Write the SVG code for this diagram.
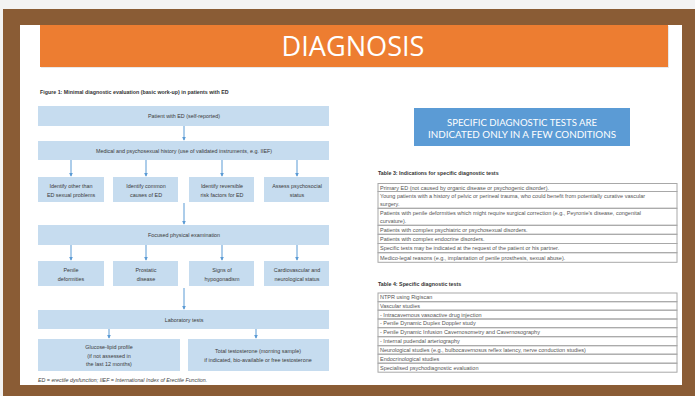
<svg xmlns="http://www.w3.org/2000/svg" width="695" height="396" viewBox="0 0 695 396">
<defs>
<marker id="ah" viewBox="0 0 6 6" refX="5" refY="3" markerWidth="4" markerHeight="4" orient="auto" markerUnits="userSpaceOnUse">
<path d="M0,0 L6,3 L0,6 z" fill="#5b9bd5"/>
</marker>
<style>
.box{fill:#c6dcef;}
.ft{font-family:"Liberation Sans",Arial,sans-serif;font-size:5.4px;fill:#3a3a3a;text-anchor:middle;}
.tt{font-family:"Liberation Sans",Arial,sans-serif;font-size:5.5px;fill:#555;}
.cap{font-family:"Liberation Sans",Arial,sans-serif;font-size:5.3px;font-weight:bold;fill:#333;}
.row{fill:none;stroke:#a8a8a8;stroke-width:1;}
.con line{stroke:#5b9bd5;stroke-width:1;marker-end:url(#ah);}
</style>
</defs>
<rect x="0" y="0" width="695" height="396" fill="#f3f3f3"/>
<rect x="3" y="9" width="692" height="387" fill="#8a5c35"/>
<rect x="20" y="25" width="662" height="360" fill="#ffffff"/>
<g id="title">
<rect x="41" y="26" width="628" height="42" fill="#e8e8e8"/>
<rect x="40" y="25" width="628" height="42" fill="#ed7d31"/>
<text x="353" y="55.5" font-family="Open Sans, sans-serif" font-size="27" fill="#ffffff" text-anchor="middle" textLength="143" lengthAdjust="spacingAndGlyphs">DIAGNOSIS</text>
</g>
<text class="cap" x="40" y="94">Figure 1: Minimal diagnostic evaluation (basic work-up) in patients with ED</text>

<g class="con" id="connectors">
<line x1="184" y1="126" x2="184" y2="140"/>
<line x1="71" y1="160" x2="71" y2="176"/>
<line x1="146" y1="160" x2="146" y2="176"/>
<line x1="222" y1="160" x2="222" y2="176"/>
<line x1="297" y1="160" x2="297" y2="176"/>
<line x1="184" y1="203" x2="184" y2="224"/>
<line x1="71" y1="245" x2="71" y2="260"/>
<line x1="146" y1="245" x2="146" y2="260"/>
<line x1="222" y1="245" x2="222" y2="260"/>
<line x1="297" y1="245" x2="297" y2="260"/>
<line x1="184" y1="288" x2="184" y2="309"/>
<line x1="109" y1="329" x2="109" y2="338"/>
<line x1="256" y1="329" x2="256" y2="338"/>
</g>

<g id="n1"><rect class="box" x="38" y="106" width="291" height="20"/><text class="ft" x="184" y="118">Patient with ED (self-reported)</text></g>
<g id="n2"><rect class="box" x="38" y="141" width="291" height="19"/><text class="ft" x="184" y="152.5">Medical and psychosexual history (use of validated instruments, e.g. IIEF)</text></g>
<g id="n3a"><rect class="box" x="38" y="177" width="66" height="25"/><text class="ft" x="71" y="187.5">Identify other than</text><text class="ft" x="71" y="196.5">ED sexual problems</text></g>
<g id="n3b"><rect class="box" x="113" y="177" width="65" height="25"/><text class="ft" x="146" y="187.5">Identify common</text><text class="ft" x="146" y="196.5">causes of ED</text></g>
<g id="n3c"><rect class="box" x="189" y="177" width="65" height="25"/><text class="ft" x="222" y="187.5">Identify reversible</text><text class="ft" x="222" y="196.5">risk factors for ED</text></g>
<g id="n3d"><rect class="box" x="264" y="177" width="65" height="25"/><text class="ft" x="297" y="187.5">Assess psychosocial</text><text class="ft" x="297" y="196.5">status</text></g>
<g id="n4"><rect class="box" x="38" y="225" width="291" height="20"/><text class="ft" x="184" y="237">Focused physical examination</text></g>
<g id="n5a"><rect class="box" x="38" y="261" width="66" height="25"/><text class="ft" x="71" y="271.5">Penile</text><text class="ft" x="71" y="280.5">deformities</text></g>
<g id="n5b"><rect class="box" x="113" y="261" width="65" height="25"/><text class="ft" x="146" y="271.5">Prostatic</text><text class="ft" x="146" y="280.5">disease</text></g>
<g id="n5c"><rect class="box" x="189" y="261" width="65" height="25"/><text class="ft" x="222" y="271.5">Signs of</text><text class="ft" x="222" y="280.5">hypogonadism</text></g>
<g id="n5d"><rect class="box" x="264" y="261" width="65" height="25"/><text class="ft" x="297" y="271.5">Cardiovascular and</text><text class="ft" x="297" y="280.5">neurological status</text></g>
<g id="n6"><rect class="box" x="38" y="310" width="291" height="19"/><text class="ft" x="184" y="321.5">Laboratory tests</text></g>
<g id="n7a"><rect class="box" x="38" y="339" width="142" height="32"/><text class="ft" x="109" y="348.5">Glucose-lipid profile</text><text class="ft" x="109" y="357.5">(if not assessed in</text><text class="ft" x="109" y="366">the last 12 months)</text></g>
<g id="n7b"><rect class="box" x="188" y="339" width="141" height="32"/><text class="ft" x="258" y="353">Total testosterone (morning sample)</text><text class="ft" x="258" y="362">if indicated, bio-available or free testosterone</text></g>
<text x="38" y="382" font-family="Liberation Sans, Arial, sans-serif" font-size="5.3" font-style="italic" fill="#444">ED = erectile dysfunction; IIEF = International Index of Erectile Function.</text>

<g id="bluebox">
<rect x="414" y="108" width="216" height="38" fill="#5b9bd5"/>
<text x="522" y="126" font-family="Lato, 'Open Sans', sans-serif" font-size="10" fill="#ffffff" text-anchor="middle" textLength="150" lengthAdjust="spacingAndGlyphs">SPECIFIC DIAGNOSTIC TESTS ARE</text>
<text x="522" y="138" font-family="Lato, 'Open Sans', sans-serif" font-size="10" fill="#ffffff" text-anchor="middle" textLength="188" lengthAdjust="spacingAndGlyphs">INDICATED ONLY IN A FEW CONDITIONS</text>
</g>

<g id="table3">
<text class="cap" x="378" y="174.5">Table 3: Indications for specific diagnostic tests</text>
<rect class="row" x="378" y="183.5" width="299" height="8"/>
<rect class="row" x="378" y="191.5" width="299" height="16.8"/>
<rect class="row" x="378" y="208.3" width="299" height="17"/>
<rect class="row" x="378" y="225.3" width="299" height="9"/>
<rect class="row" x="378" y="234.3" width="299" height="9.2"/>
<rect class="row" x="378" y="243.5" width="299" height="9.2"/>
<rect class="row" x="378" y="252.7" width="299" height="9.6"/>
<text class="tt" x="380" y="189.5">Primary ED (not caused by organic disease or psychogenic disorder).</text>
<text class="tt" x="380" y="197.8">Young patients with a history of pelvic or perineal trauma, who could benefit from potentially curative vascular</text>
<text class="tt" x="380" y="206">surgery.</text>
<text class="tt" x="380" y="214.6">Patients with penile deformities which might require surgical correction (e.g., Peyronie’s disease, congenital</text>
<text class="tt" x="380" y="223">curvature).</text>
<text class="tt" x="380" y="231.8">Patients with complex psychiatric or psychosexual disorders.</text>
<text class="tt" x="380" y="240.9">Patients with complex endocrine disorders.</text>
<text class="tt" x="380" y="250.1">Specific tests may be indicated at the request of the patient or his partner.</text>
<text class="tt" x="380" y="259.5">Medico-legal reasons (e.g., implantation of penile prosthesis, sexual abuse).</text>
</g>

<g id="table4">
<text class="cap" x="378" y="286">Table 4: Specific diagnostic tests</text>
<rect class="row" x="378" y="293" width="299" height="8.7"/>
<rect class="row" x="378" y="301.7" width="299" height="8.5"/>
<rect class="row" x="378" y="310.2" width="299" height="8.8"/>
<rect class="row" x="378" y="319" width="299" height="8.7"/>
<rect class="row" x="378" y="327.7" width="299" height="9"/>
<rect class="row" x="378" y="336.7" width="299" height="9"/>
<rect class="row" x="378" y="345.7" width="299" height="8.5"/>
<rect class="row" x="378" y="354.2" width="299" height="9"/>
<rect class="row" x="378" y="363.2" width="299" height="9"/>
<text class="tt" x="380" y="299.2">NTPR using Rigiscan</text>
<text class="tt" x="380" y="307.9">Vascular studies</text>
<text class="tt" x="380" y="316.5">- Intracavernous vasoactive drug injection</text>
<text class="tt" x="380" y="325.3">- Penile Dynamic Duplex Doppler study</text>
<text class="tt" x="380" y="334.2">- Penile Dynamic Infusion Cavernosometry and Cavernosography</text>
<text class="tt" x="380" y="343.2">- Internal pudendal arteriography</text>
<text class="tt" x="380" y="351.9">Neurological studies (e.g., bulbocavernosus reflex latency, nerve conduction studies)</text>
<text class="tt" x="380" y="360.7">Endocrinological studies</text>
<text class="tt" x="380" y="369.7">Specialised psychodiagnostic evaluation</text>
</g>
</svg>
